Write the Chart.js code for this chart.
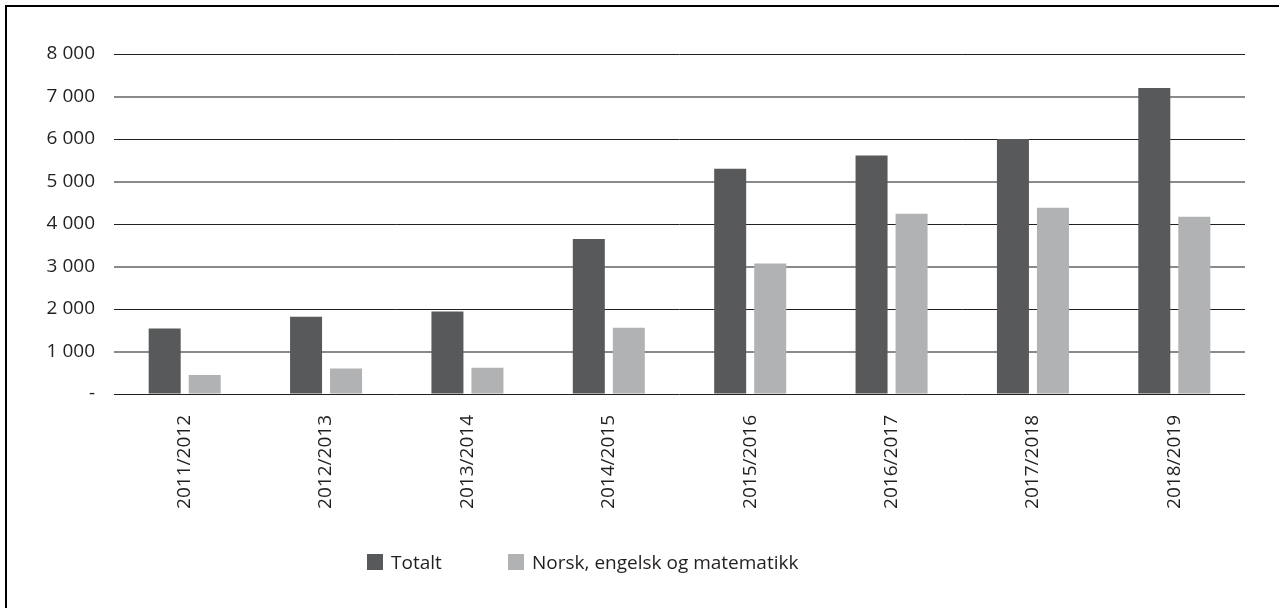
<!DOCTYPE html>
<html>
<head>
<meta charset="utf-8">
<script src="https://cdn.jsdelivr.net/npm/chart.js@4"></script>
<style>
  body { margin: 0; background: #fff; font-family: "Open Sans", sans-serif; }
  #wrap { position: relative; width: 1279px; height: 608px; }
  #frame { position: absolute; left: 5px; top: 5px; right: -10px; bottom: -10px; border-top: 2px solid #000; border-left: 2px solid #000; pointer-events: none; }
  .item { position: absolute; top: 549px; display: flex; align-items: center; font-size: 19px; color: #231f20; white-space: nowrap; }
  .box { width: 16px; height: 16px; margin-right: 8px; }
</style>
</head>
<body>
<div id="wrap">
  <canvas id="chart"></canvas>
  <div id="frame"></div>
</div>
<script>
const categories = ["2011/2012", "2012/2013", "2013/2014", "2014/2015", "2015/2016", "2016/2017", "2017/2018", "2018/2019"];
const totalt = [1540, 1820, 1940, 3650, 5300, 5610, 6000, 7200];
const norskEngelskMatte = [450, 600, 620, 1560, 3070, 4240, 4380, 4170];
const seriesNames = ["Totalt", "Norsk, engelsk og matematikk"];
const seriesColors = ["#58595b", "#b1b2b4"];

const fmt = (v) => (v === 0 ? "-" : String(v).replace(/\B(?=(\d{3})+(?!\d))/g, " "));

const ctx = document.getElementById("chart").getContext("2d");
new Chart(ctx, {
  type: "bar",
  data: {
    labels: categories,
    datasets: [
      { label: seriesNames[0], data: totalt, backgroundColor: seriesColors[0] },
      { label: seriesNames[1], data: norskEngelskMatte, backgroundColor: seriesColors[1] },
    ],
  },
  options: {
    responsive: true,
    maintainAspectRatio: false,
    animation: false,
    categoryPercentage: 0.566,
    barPercentage: 0.8,
    layout: { padding: { top: 54, right: 34, left: 0, bottom: 0 } },
    plugins: { legend: { display: false }, tooltip: { enabled: false } },
    scales: {
      x: {
        grid: { display: false, drawTicks: false },
        border: { display: false },
        ticks: { color: "#231f20", font: { family: "Open Sans", size: 19 }, minRotation: 90, maxRotation: 90, padding: 21 },
        afterFit: (scale) => { scale.height = 214; },
      },
      y: {
        min: 0,
        max: 8000,
        grid: {
          drawTicks: false,
          color: (c) => (c.tick && c.tick.value % 2000 === 0 ? "#231f20" : "#8a8a8a"),
          lineWidth: (c) => (c.tick && c.tick.value % 2000 === 0 ? 1 : 2),
        },
        border: { display: false },
        ticks: { stepSize: 1000, color: "#231f20", font: { family: "Open Sans", size: 19 }, padding: 19, callback: (v) => fmt(v) },
        afterFit: (scale) => { scale.width = 114; },
      },
    },
  },
});

// legend, one entry per series
const legendLeft = [367, 508];
seriesNames.forEach((name, i) => {
  const item = document.createElement("div");
  item.className = "item";
  item.style.left = legendLeft[i] + "px";
  item.innerHTML = `<span class="box" style="background:${seriesColors[i]}"></span><span>${name}</span>`;
  document.getElementById("wrap").appendChild(item);
});
</script>
</body>
</html>
